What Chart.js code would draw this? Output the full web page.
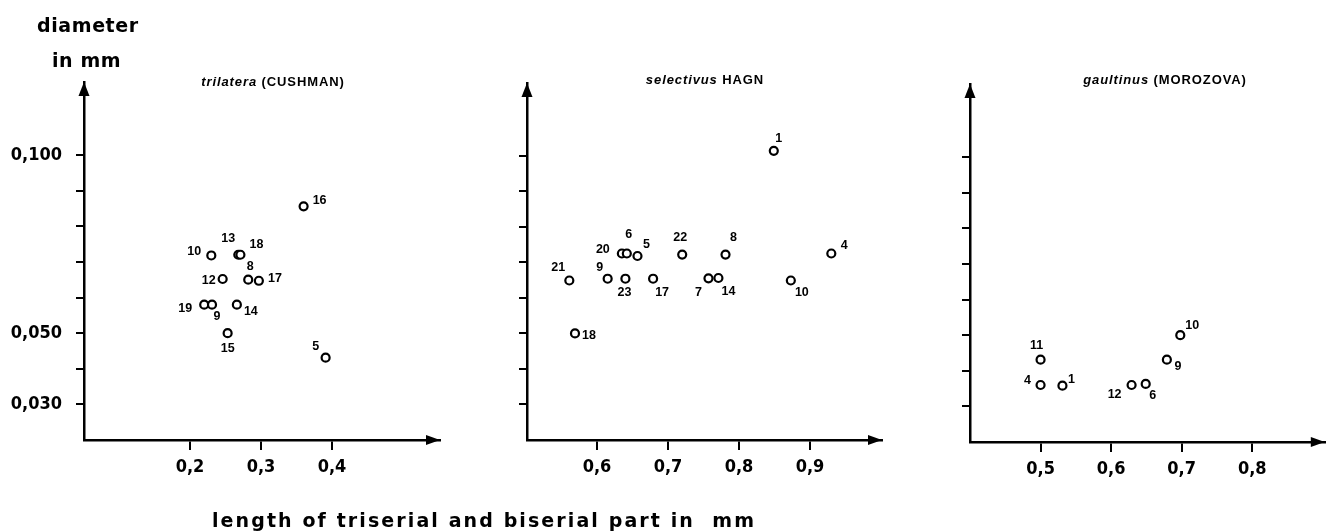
<!DOCTYPE html>
<html lang="en">
<head>
<meta charset="UTF-8">
<title>Diameter vs length of triserial and biserial part</title>
<script src="https://cdn.jsdelivr.net/npm/chart.js@4.4.0/dist/chart.umd.min.js"></script>
<style>
    body { margin: 0; background: #fff; }
    #wrap { position: relative; width: 1331px; height: 531px; overflow: hidden; background: #fff; }
    #wrap canvas { position: absolute; left: 0; top: 0; }
    .txt { position: absolute; white-space: nowrap; color: #000; line-height: 1; }
    .axis { font-family: 'DejaVu Sans'; font-weight: bold; font-size: 19px; letter-spacing: 0.6px; }
    .bottom { letter-spacing: 2.1px; }
    .title { font-family: 'Liberation Sans'; font-weight: bold; font-size: 13px; letter-spacing: 0.9px; transform: translateX(-50%); }
</style>
</head>
<body>
<div id="wrap">
    <canvas id="c1" width="1331" height="531"></canvas>
    <canvas id="c2" width="1331" height="531"></canvas>
    <canvas id="c3" width="1331" height="531"></canvas>
    <div class="txt axis" style="left:37px; top:16px;">diameter</div>
    <div class="txt axis" style="left:52px; top:51px;">in&nbsp;mm</div>
    <div class="txt axis bottom" style="left:212px; top:511px;">length of triserial and biserial part in&nbsp;&nbsp;mm</div>
    <div class="txt title" style="left:273px; top:75px;"><i>trilatera</i> (CUSHMAN)</div>
    <div class="txt title" style="left:705px; top:73px;"><i>selectivus</i> HAGN</div>
    <div class="txt title" style="left:1165px; top:73px;"><i>gaultinus</i> (MOROZOVA)</div>
</div>
<script>
// shared y axis: diameter in mm
const yTicks = [0.03, 0.04, 0.05, 0.06, 0.07, 0.08, 0.09, 0.10];
const yTickText = ['0,030', '', '0,050', '', '', '', '', '0,100'];

// trilatera (CUSHMAN)
const trilateraNo = [16, 10, 13, 18, 12, 8, 17, 19, 9, 14, 15, 5];
const trilateraX = [0.360, 0.230, 0.268, 0.271, 0.246, 0.282, 0.297, 0.220, 0.231, 0.266, 0.253, 0.391];
const trilateraY = [0.0856, 0.0718, 0.0720, 0.0720, 0.0652, 0.0650, 0.0647, 0.0580, 0.0580, 0.0580, 0.0500, 0.0431];
const trilateraTicks = [0.2, 0.3, 0.4];

// selectivus HAGN
const selectivusNo = [1, 21, 9, 23, 20, 6, 5, 17, 22, 7, 14, 8, 10, 4, 18];
const selectivusX = [0.849, 0.561, 0.615, 0.640, 0.635, 0.642, 0.657, 0.679, 0.720, 0.757, 0.771, 0.781, 0.873, 0.930, 0.569];
const selectivusY = [0.1014, 0.0649, 0.0654, 0.0654, 0.0725, 0.0725, 0.0718, 0.0654, 0.0722, 0.0655, 0.0656, 0.0722, 0.0649, 0.0725, 0.0500];
const selectivusTicks = [0.6, 0.7, 0.8, 0.9];

// gaultinus (MOROZOVA)
const gaultinusNo = [11, 4, 1, 12, 6, 9, 10];
const gaultinusX = [0.500, 0.500, 0.531, 0.629, 0.649, 0.679, 0.698];
const gaultinusY = [0.0431, 0.0360, 0.0358, 0.0360, 0.0363, 0.0431, 0.0500];
const gaultinusTicks = [0.5, 0.6, 0.7, 0.8];

// where each specimen number sits relative to its circle (px)
const trilateraShift = [[16,-6],[-17,-4],[-10,-16],[16,-10],[-14,2],[2,-13],[16,-2],[-19,4],[5,12],[14,7],[0,15],[-10,-11]];
const selectivusShift = [[5,-12],[-11,-13],[-8,-11],[-1,14],[-19,-4],[2,-19],[9,-11],[9,14],[-2,-17],[-10,14],[10,14],[8,-17],[11,12],[13,-8],[14,2]];
const gaultinusShift = [[-4,-14],[-13,-4],[9,-6],[-17,10],[7,12],[11,7],[12,-10]];

const tickFont = { family: 'DejaVu Sans Condensed', size: 18, weight: 'bold' };

const arrowPlugin = {
    id: 'arrows',
    afterDraw(chart) {
        const a = chart.chartArea, ctx = chart.ctx;
        ctx.save();
        ctx.fillStyle = '#000';
        ctx.beginPath();
        ctx.moveTo(a.left, a.top);
        ctx.lineTo(a.left - 5.5, a.top + 14);
        ctx.lineTo(a.left + 5.5, a.top + 14);
        ctx.closePath();
        ctx.fill();
        ctx.beginPath();
        ctx.moveTo(a.right, a.bottom);
        ctx.lineTo(a.right - 14, a.bottom - 5);
        ctx.lineTo(a.right - 14, a.bottom + 5);
        ctx.closePath();
        ctx.fill();
        ctx.restore();
    }
};

const numberPlugin = {
    id: 'numbers',
    afterDatasetsDraw(chart, args, opts) {
        const ctx = chart.ctx;
        const pts = chart.getDatasetMeta(0).data;
        ctx.save();
        ctx.fillStyle = '#000';
        ctx.font = 'bold 12.5px "Liberation Sans"';
        ctx.textAlign = 'center';
        ctx.textBaseline = 'middle';
        pts.forEach((p, i) => {
            const s = opts.shift[i];
            ctx.fillText(String(opts.numbers[i]), p.x + s[0], p.y + s[1]);
        });
        ctx.restore();
    }
};

function makePanel(id, xs, ys, nos, shift, xMin, xMax, xTicks, area, showY) {
    const yWidth = 80, xHeight = 40;
    new Chart(document.getElementById(id), {
        type: 'scatter',
        data: {
            datasets: [{
                data: xs.map((x, i) => ({ x: x, y: ys[i] })),
                pointRadius: 4,
                pointHoverRadius: 4,
                pointBorderWidth: 2.2,
                borderColor: '#000',
                backgroundColor: '#fff',
                clip: false
            }]
        },
        options: {
            responsive: false,
            animation: false,
            events: [],
            layout: {
                padding: {
                    left: area.left - yWidth,
                    top: area.top,
                    right: 1331 - area.right,
                    bottom: 531 - area.bottom - xHeight
                }
            },
            plugins: {
                legend: { display: false },
                tooltip: { enabled: false },
                numbers: { numbers: nos, shift: shift }
            },
            scales: {
                x: {
                    type: 'linear',
                    min: xMin,
                    max: xMax,
                    afterBuildTicks: s => { s.ticks = xTicks.map(v => ({ value: v })); },
                    afterFit: s => { s.height = xHeight; },
                    grid: { drawOnChartArea: false, drawTicks: true, tickLength: 10, color: '#000', lineWidth: 2 },
                    border: { color: '#000', width: 2.5 },
                    ticks: {
                        autoSkip: false, maxRotation: 0, padding: 7, color: '#000', font: tickFont,
                        callback: v => v.toFixed(1).replace('.', ',')
                    }
                },
                y: {
                    type: 'linear',
                    min: 0.02,
                    max: 0.1205,
                    afterBuildTicks: s => { s.ticks = yTicks.map(v => ({ value: v })); },
                    afterFit: s => { s.width = yWidth; },
                    grid: { drawOnChartArea: false, drawTicks: true, tickLength: 8, color: '#000', lineWidth: 2 },
                    border: { color: '#000', width: 2.5 },
                    ticks: {
                        autoSkip: false, padding: 14, color: '#000', font: tickFont,
                        callback: (v, i) => showY ? yTickText[i] : ''
                    }
                }
            }
        },
        plugins: [arrowPlugin, numberPlugin]
    });
}

makePanel('c1', trilateraX, trilateraY, trilateraNo, trilateraShift, 0.0507, 0.5521, trilateraTicks,
    { left: 84, right: 440, top: 82, bottom: 440 }, true);
makePanel('c2', selectivusX, selectivusY, selectivusNo, selectivusShift, 0.5014, 1.0014, selectivusTicks,
    { left: 527, right: 882, top: 83, bottom: 440 }, false);
makePanel('c3', gaultinusX, gaultinusY, gaultinusNo, gaultinusShift, 0.4, 0.9028, gaultinusTicks,
    { left: 970, right: 1327, top: 84, bottom: 442 }, false);
</script>
</body>
</html>
